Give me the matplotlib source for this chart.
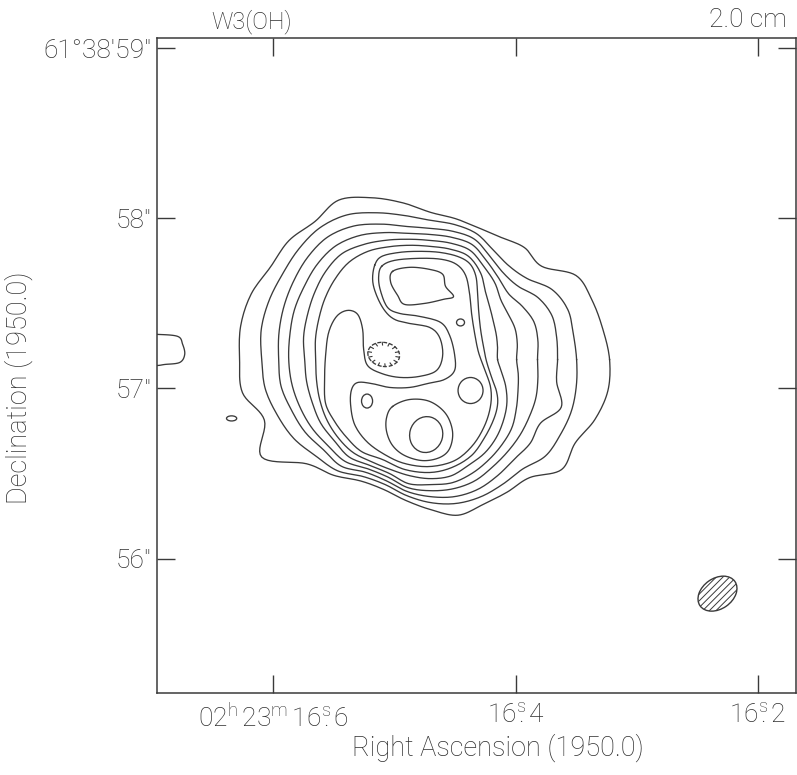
import numpy as np
import matplotlib
matplotlib.use("Agg")
import matplotlib.pyplot as plt
from matplotlib.patches import Ellipse

plt.rcParams['font.family'] = ['Roboto', 'DejaVu Sans']
plt.rcParams['font.weight'] = 'light'
plt.rcParams['mathtext.fontset'] = 'custom'
plt.rcParams['mathtext.rm'] = 'Roboto:light'
plt.rcParams['mathtext.it'] = 'Roboto:italic:light'
plt.rcParams['mathtext.bf'] = 'Roboto:bold'
plt.rcParams['hatch.color'] = '#3a3a3a'
plt.rcParams['hatch.linewidth'] = 0.7

INK = '#3a3a3a'
TXT = '#2e2e2e'

# ---------------- data ----------------
source_name = "W3(OH)"
band_label = "2.0 cm"
dec0_deg = 61 + 38 / 60 + 57 / 3600          # reference declination
ra_tick_sec = [16.6, 16.4, 16.2]             # RA seconds of 02h23m
ra_tick_labels = [r'$\mathrm{02^{h}\,23^{m}\,16^{s}\!\!.6}$',
                  r'$\mathrm{16^{s}\!\!.4}$',
                  r'$\mathrm{16^{s}\!\!.2}$']
dec_tick_arcsec = [56, 57, 58, 59]           # arcsec of 61d38m
dec_tick_labels = ['56"', '57"', '58"', '61°38\'59"']
xlabel = "Right Ascension (1950.0)"
ylabel = "Declination (1950.0)"

# All positions: arcsec offsets from 02h23m16.4s, +61d38m57s (east positive)
# Outer nested contours, traced as radius (arcsec) every 10 deg about ring_center
ring_center = (0.50, 0.17)
ring_angles_deg = np.arange(0, 360, 10)      # 0 = west, 90 = north
ring_radii = [
    [1.053, 1.029, 1.012, 0.988, 0.853, 0.859, 0.829, 0.824, 0.841, 0.865, 0.935, 1.012,
     1.082, 1.059, 1.088, 1.088, 1.124, 1.135, 1.124, 1.124, 1.041, 1.147, 0.953, 0.888,
     0.824, 0.812, 0.841, 0.882, 0.929, 0.906, 0.900, 0.906, 1.006, 0.982, 1.029, 1.059],
    [0.859, 0.853, 0.859, 0.824, 0.741, 0.718, 0.741, 0.788, 0.806, 0.818, 0.859, 0.918,
     0.982, 1.012, 1.012, 1.006, 1.012, 1.012, 0.994, 0.988, 0.959, 0.929, 0.882, 0.853,
     0.794, 0.782, 0.812, 0.841, 0.859, 0.859, 0.847, 0.841, 0.882, 0.882, 0.882, 0.871],
    [0.747, 0.753, 0.759, 0.729, 0.671, 0.665, 0.700, 0.753, 0.765, 0.771, 0.794, 0.847,
     0.906, 0.941, 0.941, 0.929, 0.918, 0.906, 0.894, 0.894, 0.871, 0.853, 0.824, 0.818,
     0.765, 0.759, 0.788, 0.806, 0.818, 0.812, 0.788, 0.765, 0.765, 0.747, 0.818, 0.753],
    [0.629, 0.641, 0.647, 0.624, 0.600, 0.624, 0.665, 0.718, 0.729, 0.735, 0.753, 0.794,
     0.841, 0.871, 0.871, 0.859, 0.853, 0.841, 0.835, 0.829, 0.818, 0.806, 0.788, 0.782,
     0.741, 0.735, 0.765, 0.771, 0.771, 0.759, 0.729, 0.706, 0.688, 0.671, 0.659, 0.641],
    [0.506, 0.518, 0.529, 0.529, 0.541, 0.588, 0.629, 0.682, 0.694, 0.700, 0.718, 0.747,
     0.782, 0.812, 0.806, 0.788, 0.771, 0.759, 0.741, 0.741, 0.741, 0.747, 0.741, 0.747,
     0.718, 0.712, 0.741, 0.735, 0.735, 0.712, 0.682, 0.653, 0.624, 0.582, 0.547, 0.524],
    [0.394, 0.400, 0.412, 0.429, 0.459, 0.506, 0.588, 0.647, 0.659, 0.665, 0.682, 0.706,
     0.735, 0.747, 0.735, 0.718, 0.700, 0.688, 0.676, 0.682, 0.694, 0.706, 0.712, 0.712,
     0.694, 0.688, 0.694, 0.700, 0.694, 0.659, 0.635, 0.600, 0.559, 0.518, 0.471, 0.424],
]

# 7th level: outer edge plus the channel that wraps the central depression
shell_x = [0.829, 0.788, 0.682, 0.565, 0.447, 0.341, 0.271, 0.235, 0.224, 0.218, 0.206, 0.188,
           0.171, 0.141, 0.112, 0.106, 0.129, 0.182, 0.259, 0.376, 0.506, 0.653, 0.782, 0.906,
           0.994, 1.065, 1.118, 1.124, 1.118, 1.100, 1.053, 0.988, 0.929, 0.900, 0.894, 0.871,
           0.788, 0.682, 0.565, 0.465, 0.429, 0.447, 0.506, 0.624, 0.712, 0.771, 0.818, 0.841]
shell_y = [0.724, 0.776, 0.800, 0.806, 0.800, 0.776, 0.735, 0.665, 0.571, 0.465, 0.347, 0.241,
           0.159, 0.065, -0.018, -0.094, -0.182, -0.288, -0.394, -0.465, -0.494, -0.476, -0.418, -0.371,
           -0.288, -0.194, -0.088, 0.053, 0.194, 0.329, 0.424, 0.459, 0.435, 0.347, 0.229, 0.135,
           0.088, 0.065, 0.071, 0.106, 0.194, 0.300, 0.359, 0.382, 0.406, 0.459, 0.547, 0.635]

# 8th level: horseshoe around the depression
ring8_x = [0.788, 0.712, 0.565, 0.435, 0.347, 0.294, 0.271, 0.259, 0.241, 0.218, 0.182, 0.147,
           0.147, 0.182, 0.253, 0.359, 0.506, 0.653, 0.771, 0.876, 0.947, 0.971, 0.965, 0.929,
           0.847, 0.741, 0.624, 0.518, 0.418, 0.359, 0.359, 0.388, 0.441, 0.565, 0.682, 0.753,
           0.794, 0.806]
ring8_y = [0.718, 0.753, 0.765, 0.759, 0.729, 0.665, 0.559, 0.441, 0.324, 0.212, 0.112, 0.006,
           -0.100, -0.218, -0.335, -0.424, -0.459, -0.441, -0.388, -0.312, -0.212, -0.094, -0.006, 0.035,
           0.029, 0.006, 0.006, 0.029, 0.053, 0.106, 0.200, 0.312, 0.388, 0.424, 0.441, 0.476,
           0.571, 0.653]

# 9th level around the southern peak
ring9_x = [0.724, 0.624, 0.506, 0.412, 0.371, 0.388, 0.447, 0.547, 0.653, 0.724, 0.759, 0.759]
ring9_y = [-0.106, -0.065, -0.076, -0.147, -0.253, -0.353, -0.406, -0.424, -0.394, -0.335, -0.253, -0.171]

# northern peak
north_peak_x = [0.724, 0.624, 0.506, 0.429, 0.412, 0.365, 0.424, 0.535, 0.653, 0.694, 0.735]
north_peak_y = [0.688, 0.712, 0.700, 0.671, 0.600, 0.541, 0.524, 0.500, 0.494, 0.547, 0.624]

# contour entering from the eastern edge of the field
edge_blob_x = [2.20, 2.11, 1.988, 1.959, 1.947, 1.976, 2.065, 2.11, 2.20]
edge_blob_y = [0.318, 0.318, 0.306, 0.259, 0.200, 0.153, 0.141, 0.135, 0.135]

# small closed contours: centre x, centre y, width, height, angle
peak_loops = [
    (0.324, 0.388, 0.047, 0.041, 0),     # tiny knot
    (0.265, -0.012, 0.147, 0.153, 0),    # western knot
    (0.874, -0.074, 0.065, 0.082, 0),    # small eastern knot
    (0.526, -0.271, 0.194, 0.212, 15),   # southern peak
    (1.671, -0.176, 0.060, 0.030, 0),    # isolated speck
]
minimum_loop = (0.776, 0.200, 0.188, 0.141, 10)   # hachured depression
beam = (-1.188, -1.206, 0.25, 0.18, -35)          # restoring beam


# ---------------- helpers ----------------
def catmull(xs, ys, closed=True, n=10):
    P = np.column_stack([xs, ys]).astype(float)
    if not closed:
        P = np.vstack([2 * P[0] - P[1], P, 2 * P[-1] - P[-2]])
    N = len(P)
    t = np.linspace(0, 1, n, endpoint=False)[:, None]
    segs = []
    rng = range(N) if closed else range(1, N - 2)
    for i in rng:
        p0, p1, p2, p3 = P[i - 1], P[i], P[(i + 1) % N], P[(i + 2) % N]
        segs.append(0.5 * (2 * p1 + (-p0 + p2) * t
                           + (2 * p0 - 5 * p1 + 4 * p2 - p3) * t ** 2
                           + (-p0 + 3 * p1 - 3 * p2 + p3) * t ** 3))
    out = np.vstack(segs)
    end = out[:1] if closed else P[-2:-1]
    return np.vstack([out, end])


def ra_offset(sec):
    return (sec - 16.4) * 15.0 * np.cos(np.radians(dec0_deg))


# ---------------- figure ----------------
fig = plt.figure(figsize=(7.97, 7.75), dpi=100)
ax = fig.add_axes([157 / 797, 1 - 693 / 775, (796 - 157) / 797, (693 - 38) / 775])
ax.set_xlim(2.11, -1.65)
ax.set_ylim(-1.79, 2.06)

lw = 0.95
phi = np.radians(ring_angles_deg)
for radii in ring_radii:
    r = np.asarray(radii)
    c = catmull(ring_center[0] - r * np.cos(phi), ring_center[1] + r * np.sin(phi))
    ax.plot(c[:, 0], c[:, 1], color=INK, lw=lw)

for xs, ys in [(shell_x, shell_y), (ring8_x, ring8_y), (ring9_x, ring9_y),
               (north_peak_x, north_peak_y)]:
    c = catmull(xs, ys)
    ax.plot(c[:, 0], c[:, 1], color=INK, lw=lw)

c = catmull(edge_blob_x, edge_blob_y, closed=False)
ax.plot(c[:, 0], c[:, 1], color=INK, lw=lw)

for (cx, cy, w, h, a) in peak_loops:
    ax.add_patch(Ellipse((cx, cy), w, h, angle=a, fill=False, ec=INK, lw=lw))

cx, cy, w, h, a = minimum_loop
ax.add_patch(Ellipse((cx, cy), w, h, angle=a, fill=False, ec=INK, lw=lw,
                     ls=(0, (3, 1.5))))
ca, sa = np.cos(np.radians(a)), np.sin(np.radians(a))
for t in np.linspace(0, 2 * np.pi, 14, endpoint=False):
    ex, ey = 0.5 * w * np.cos(t), 0.5 * h * np.sin(t)
    px, py = cx + ex * ca - ey * sa, cy + ex * sa + ey * ca
    k = 0.78
    ax.plot([px, cx + k * (px - cx)], [py, cy + k * (py - cy)], color=INK, lw=0.8)

bx, by, bw, bh, ba = beam
ax.add_patch(Ellipse((bx, by), bw, bh, angle=ba, fill=False, ec=INK, lw=1.0,
                     hatch='/////'))

ax.set_xticks([ra_offset(s) for s in ra_tick_sec])
ax.set_xticklabels(ra_tick_labels)
ax.set_yticks([d - 57 for d in dec_tick_arcsec])
ax.set_yticklabels(dec_tick_labels)
ax.tick_params(axis='both', which='major', direction='in', length=13, width=1.0,
               color=INK, labelcolor=TXT, labelsize=19, top=True, right=True)
ax.tick_params(axis='x', pad=8)
ax.tick_params(axis='y', pad=4)
for s in ax.spines.values():
    s.set_color(INK)
    s.set_linewidth(1.1)

fig.text(498 / 797, 1 - 748 / 775, xlabel, ha='center', va='center',
         fontsize=19.5, color=TXT)
fig.text(19 / 797, 1 - 388 / 775, ylabel, ha='center', va='center',
         rotation=90, fontsize=19.5, color=TXT)
fig.text(252 / 797, 1 - 22 / 775, source_name, ha='center', va='center',
         fontsize=17, color=TXT)
fig.text(748 / 797, 1 - 20 / 775, band_label, ha='center', va='center',
         fontsize=19, color=TXT)

fig.savefig("out.png", dpi=100)
